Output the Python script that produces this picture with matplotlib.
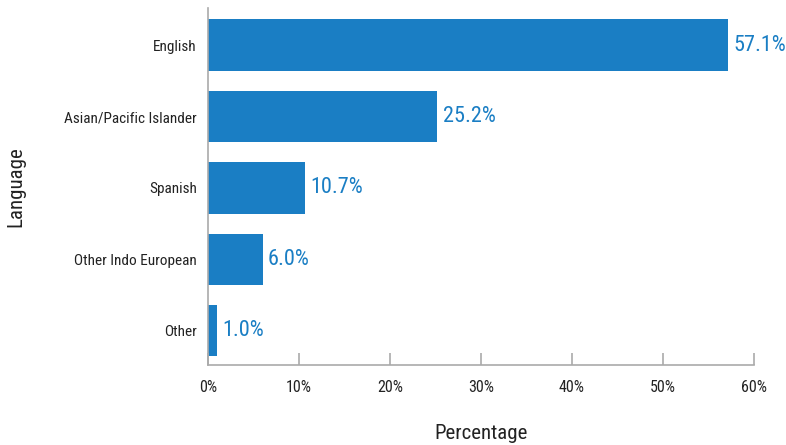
import matplotlib.pyplot as plt
from matplotlib import font_manager

languages = ["English", "Asian/Pacific Islander", "Spanish", "Other Indo European", "Other"]
shares = [57.1, 25.2, 10.7, 6.0, 1.0]
xticks = [0, 10, 20, 30, 40, 50, 60]

names = {f.name for f in font_manager.fontManager.ttflist}
narrow = [n for n in ["Liberation Sans Narrow", "DejaVu Sans Condensed", "Roboto Condensed"] if n in names]
plt.rcParams['font.family'] = narrow + ['DejaVu Sans']

blue = "#1a7ec4"
grey = "#aaaaaa"

fig = plt.figure(figsize=(7.86, 4.45), dpi=100)
ax = fig.add_axes([0.2646, 0.1798, 0.6947, 0.8022])

ypos = list(range(len(languages)))[::-1]
ax.barh(ypos, shares, height=0.72, color=blue)
for y, v in zip(ypos, shares):
    ax.text(v + 0.6, y, f"{v:.1f}%", va="center", ha="left", color=blue, fontsize=16)

ax.set_yticks(ypos)
ax.set_yticklabels(languages, fontsize=11, color="#222222")
ax.set_ylim(-0.48, 4.52)
ax.set_xlim(0, 60)
ax.set_xticks(xticks)
ax.set_xticklabels([f"{t}%" for t in xticks], fontsize=11.5, color="#222222")

for s in ["top", "right"]:
    ax.spines[s].set_visible(False)
for s in ["left", "bottom"]:
    ax.spines[s].set_color(grey)
    ax.spines[s].set_linewidth(1.2)
ax.tick_params(axis="y", length=0, pad=8)
ax.tick_params(axis="x", direction="in", length=9, color=grey, width=1.2, pad=11)

ax.set_xlabel("Percentage", fontsize=15, color="#222222", labelpad=21)
ax.set_ylabel("Language", fontsize=15, color="#222222", labelpad=28)

fig.savefig("out.png", dpi=100)
